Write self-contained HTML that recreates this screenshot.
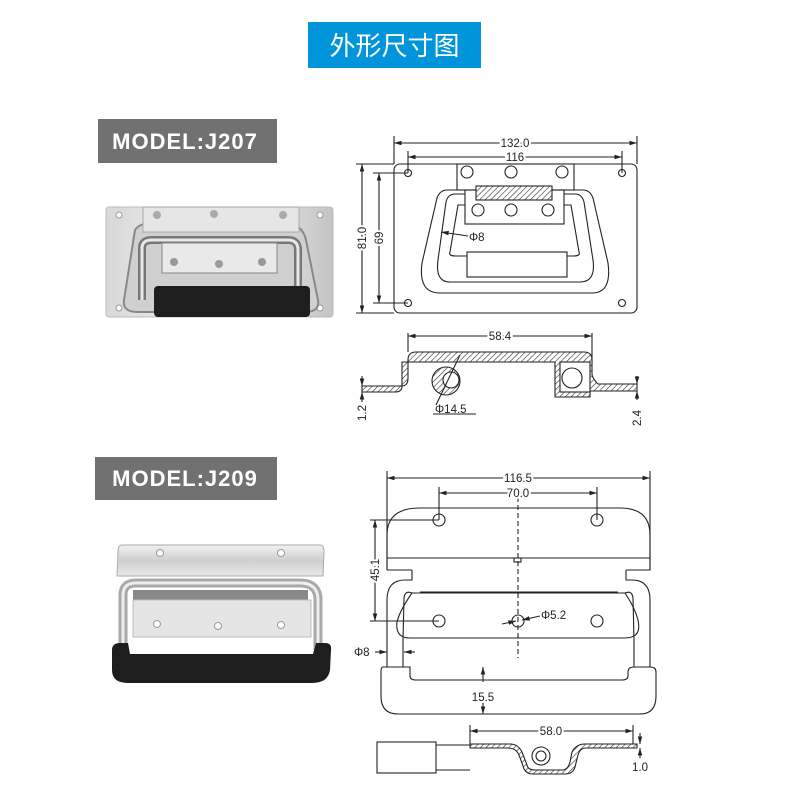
<!DOCTYPE html>
<html><head><meta charset="utf-8"><style>
html,body{margin:0;padding:0;background:#fff;}
svg{display:block}
text{font-family:"Liberation Sans","Noto Sans CJK SC",sans-serif;}
</style></head><body>
<svg width="790" height="800" viewBox="0 0 790 800" xmlns="http://www.w3.org/2000/svg">
<defs>
<marker id="a" viewBox="0 0 10 10" refX="10" refY="5" markerWidth="7" markerHeight="7" orient="auto-start-reverse"><path d="M0,2 L10,5 L0,8 z" fill="#222"/></marker>
<pattern id="h" width="4" height="4" patternUnits="userSpaceOnUse" patternTransform="rotate(45)"><rect width="4" height="4" fill="#fff"/><line x1="0" y1="0" x2="0" y2="4" stroke="#333" stroke-width="1.2"/></pattern>
<linearGradient id="m" x1="0" y1="0" x2="0" y2="1"><stop offset="0" stop-color="#f2f2f2"/><stop offset="0.5" stop-color="#cfcfcf"/><stop offset="1" stop-color="#e8e8e8"/></linearGradient>
<linearGradient id="m2" x1="0" y1="0" x2="1" y2="0"><stop offset="0" stop-color="#d8d8d8"/><stop offset="0.5" stop-color="#f7f7f7"/><stop offset="1" stop-color="#c4c4c4"/></linearGradient>
</defs>
<rect width="790" height="800" fill="#fff"/>
<rect x="308" y="22" width="173" height="46" fill="#0095da"/>
<text x="394.5" y="55" font-size="26" fill="#fff" text-anchor="middle">外形尺寸图</text>
<rect x="98" y="119" width="179" height="44" fill="#717171"/>
<text x="185" y="149" font-size="22" font-weight="bold" fill="#fff" text-anchor="middle" letter-spacing="1">MODEL:J207</text>
<rect x="95" y="457" width="182" height="43" fill="#717171"/>
<text x="185" y="486" font-size="22" font-weight="bold" fill="#fff" text-anchor="middle" letter-spacing="1">MODEL:J209</text>

<!-- J207 photo -->
<g>
<rect x="106" y="207" width="227" height="110" rx="3" fill="url(#m2)" stroke="#bbb"/>
<circle cx="119" cy="215" r="3" fill="#fff" stroke="#999"/><circle cx="320" cy="215" r="3" fill="#fff" stroke="#999"/>
<circle cx="119" cy="308" r="3" fill="#fff" stroke="#999"/><circle cx="320" cy="308" r="3" fill="#fff" stroke="#999"/>
<path d="M135,230 Q140,222 160,222 L280,222 Q302,222 306,240 L318,300 Q320,312 305,312 L138,312 Q122,312 124,300 Z" fill="#d0d0d0" stroke="#888" stroke-width="2"/>
<rect x="143" y="207" width="156" height="25" fill="#e6e6e6" stroke="#aaa"/>
<circle cx="157" cy="215" r="4" fill="#aaa"/><circle cx="214" cy="214" r="4" fill="#aaa"/><circle cx="283" cy="215" r="4" fill="#aaa"/>
<path d="M142,300 L142,248 Q142,240 152,240 L288,240 Q298,240 298,250 L298,300" fill="none" stroke="#777" stroke-width="8"/>
<path d="M142,300 L142,248 Q142,240 152,240 L288,240 Q298,240 298,250 L298,300" fill="none" stroke="#e8e8e8" stroke-width="3"/>
<rect x="162" y="243" width="115" height="30" fill="#e9e9e9" stroke="#888"/>
<circle cx="174" cy="262" r="4" fill="#999"/><circle cx="219" cy="264" r="4" fill="#999"/><circle cx="262" cy="262" r="4" fill="#999"/>
<rect x="154" y="286" width="156" height="31" rx="4" fill="#1e1e1e"/>
</g>

<!-- J209 photo -->
<g>
<path d="M122,545 L320,545 Q324,545 324,552 L323,576 L117,576 L118,552 Q118,545 122,545 Z" fill="url(#m)" stroke="#aaa"/>
<circle cx="160" cy="553" r="3.5" fill="#fff" stroke="#999"/><circle cx="281" cy="553" r="3.5" fill="#fff" stroke="#999"/>
<rect x="133" y="590" width="175" height="10" fill="#888"/>
<rect x="133" y="600" width="178" height="37" fill="#e5e5e5" stroke="#bbb"/>
<circle cx="157" cy="624" r="3.5" fill="#fff" stroke="#999"/><circle cx="218" cy="626" r="3.5" fill="#fff" stroke="#999"/><circle cx="281" cy="625" r="3.5" fill="#fff" stroke="#999"/>
<path d="M123,650 L123,595 Q123,583 136,583 L300,583 Q318,583 318,600 L318,650" fill="none" stroke="#a8a8a8" stroke-width="9"/>
<path d="M123,650 L123,595 Q123,583 136,583 L300,583 Q318,583 318,600 L318,650" fill="none" stroke="#eee" stroke-width="3"/>
<path d="M112,650 Q112,643 120,643 L128,643 L130,654 L313,654 L316,643 L325,643 Q332,643 331,650 L330,670 Q328,683 312,683 L128,683 Q112,683 112,670 Z" fill="#1e1e1e"/>
</g>

<g fill="none" stroke="#222" stroke-width="1.1">
<rect x="394" y="164" width="243" height="149" rx="6"/>
<circle cx="408" cy="173" r="3.5"/><circle cx="622" cy="173" r="3.5"/><circle cx="408" cy="303" r="3.5"/><circle cx="622" cy="303" r="3.5"/>
<line x1="394" y1="136" x2="394" y2="164"/><line x1="637" y1="136" x2="637" y2="164"/>
<line x1="394" y1="143" x2="637" y2="143" marker-start="url(#a)" marker-end="url(#a)"/>
<line x1="408" y1="151" x2="408" y2="173"/><line x1="622" y1="151" x2="622" y2="173"/>
<line x1="408" y1="157" x2="622" y2="157" marker-start="url(#a)" marker-end="url(#a)"/>
<line x1="356" y1="164" x2="394" y2="164"/><line x1="356" y1="313" x2="394" y2="313"/>
<line x1="362" y1="164" x2="362" y2="313" marker-start="url(#a)" marker-end="url(#a)"/>
<line x1="373" y1="173" x2="408" y2="173"/><line x1="373" y1="303" x2="408" y2="303"/>
<line x1="379" y1="173" x2="379" y2="303" marker-start="url(#a)" marker-end="url(#a)"/>
<path d="M457,190 L447,190 Q440,190 437,198 L422,263 Q418,293 440,293 L592,293 Q612,293 608,263 L593,198 Q590,190 583,190 L574,190"/>
<path d="M465,194 L455,194 Q448,194 446,202 L438,260 Q435,282 450,282 L580,282 Q596,282 593,260 L584,202 Q582,194 575,194 L564,194"/>
<path d="M465,205 L458,205 L450,252 Q448,256 456,256 L467,256"/>
<path d="M564,205 L571,205 L579,252 Q581,256 573,256 L567,256"/>
<rect x="457" y="164" width="117" height="26"/>
<circle cx="467" cy="172" r="6"/><circle cx="511" cy="172" r="6"/><circle cx="562" cy="172" r="6"/>
<rect x="465" y="190" width="99" height="34"/>
<rect x="476" y="186" width="76" height="14" fill="url(#h)"/>
<circle cx="478" cy="210" r="6"/><circle cx="511" cy="210" r="6"/><circle cx="548" cy="210" r="6"/>
<rect x="467" y="252" width="100" height="25" fill="#fff"/>
<line x1="468" y1="236" x2="441" y2="232" marker-end="url(#a)"/>

<line x1="408" y1="333" x2="408" y2="352"/><line x1="592" y1="333" x2="592" y2="365"/>
<line x1="408" y1="336" x2="592" y2="336" marker-start="url(#a)" marker-end="url(#a)"/>
<path d="M362,386 L402,386 Q408,386 408,378 L408,360 Q408,352 416,352 L584,352 Q592,352 592,360 L592,374 Q592,378 598,384 L637,384 L637,391 L590,391 L590,397 L555,397 L555,362 L402,362 L402,386 Q402,392 395,392 L362,392 Z" fill="url(#h)"/>
<rect x="560" y="362" width="30" height="30" fill="#fff"/>
<circle cx="446" cy="381" r="14" fill="url(#h)"/><circle cx="451" cy="380" r="8" fill="#fff"/>
<circle cx="572" cy="378" r="10" fill="#fff"/>
<line x1="362" y1="376" x2="362" y2="386" marker-end="url(#a)"/><line x1="362" y1="402" x2="362" y2="392" marker-end="url(#a)"/>
<line x1="637" y1="376" x2="637" y2="384" marker-end="url(#a)"/><line x1="637" y1="400" x2="637" y2="391" marker-end="url(#a)"/>
<line x1="436" y1="405" x2="460" y2="355"/><line x1="433" y1="414" x2="476" y2="414"/>

<line x1="387" y1="471" x2="387" y2="570"/><line x1="650" y1="471" x2="650" y2="570"/>
<line x1="387" y1="478" x2="650" y2="478" marker-start="url(#a)" marker-end="url(#a)"/>
<line x1="439" y1="487" x2="439" y2="520"/><line x1="597" y1="487" x2="597" y2="520"/>
<line x1="439" y1="493" x2="597" y2="493" marker-start="url(#a)" marker-end="url(#a)"/>
<path d="M387,570 L387,535 Q387,508 420,508 L620,508 Q650,508 650,535 L650,570 L626,570"/>
<line x1="387" y1="558" x2="650" y2="558"/><line x1="387" y1="570" x2="412" y2="570"/>
<path d="M412,570 L412,580 L405,580 Q387,580 387,600 L387,667"/>
<path d="M626,570 L626,580 L632,580 Q650,580 650,600 L650,667"/>
<path d="M403,667 L403,640 L404,598 Q405,590 412,593 L425,593 L610,593 L625,593 Q632,590 633,598 L634,640 L634,667"/>
<path d="M412,593 Q400,610 397,622 Q395,638 410,638 L625,638 Q642,638 638,620 Q635,608 625,593"/>
<line x1="420" y1="592" x2="618" y2="592"/>
<circle cx="439" cy="520" r="6"/><circle cx="597" cy="520" r="6"/>
<circle cx="439" cy="621" r="6"/><circle cx="518" cy="621" r="6"/><circle cx="597" cy="621" r="6"/>
<line x1="518" y1="497" x2="518" y2="658" stroke-dasharray="5,3"/>
<rect x="514" y="558" width="7" height="4"/>
<path d="M403,667 L383,667 Q381,667 381,672 L381,696 Q381,714 398,714 L640,714 Q656,714 656,696 L656,672 Q656,667 650,667 L634,667 Q628,667 628,672 L628,676 Q628,680 622,680 L416,680 Q410,680 410,676 L410,667 Z"/>
<line x1="370" y1="520" x2="439" y2="520"/><line x1="370" y1="621" x2="439" y2="621"/>
<line x1="375" y1="520" x2="375" y2="621" marker-start="url(#a)" marker-end="url(#a)"/>
<line x1="375" y1="652" x2="387" y2="652" marker-end="url(#a)"/><line x1="415" y1="652" x2="404" y2="652" marker-end="url(#a)"/>
<line x1="483" y1="667" x2="483" y2="682" marker-start="url(#a)"/><line x1="483" y1="703" x2="483" y2="714" marker-end="url(#a)"/>
<line x1="502" y1="624" x2="516" y2="621" marker-end="url(#a)"/><line x1="540" y1="616" x2="522" y2="620" marker-end="url(#a)"/>

<line x1="470" y1="725" x2="470" y2="745"/><line x1="633" y1="725" x2="633" y2="745"/>
<line x1="470" y1="731" x2="633" y2="731" marker-start="url(#a)" marker-end="url(#a)"/>
<rect x="377" y="742" width="59" height="31" fill="#fff"/>
<line x1="436" y1="745" x2="470" y2="745"/><line x1="436" y1="770" x2="470" y2="770"/>
<path d="M470,744 L510,744 Q518,744 522,752 L527,765 Q528,770 535,770 L562,770 Q568,770 570,762 L572,752 Q576,744 585,744 L637,744 L637,748 L586,748 Q580,748 578,755 L575,767 Q573,774 565,774 L533,774 Q525,774 523,766 L519,755 Q516,748 508,748 L470,748 Z" fill="url(#h)"/>
<circle cx="541" cy="756" r="9" fill="#fff"/><circle cx="541" cy="756" r="5"/>
<line x1="640" y1="733" x2="640" y2="744" marker-end="url(#a)"/><line x1="640" y1="758" x2="640" y2="748" marker-end="url(#a)"/>
</g>

<g font-size="11.5" fill="#222">
<text x="515" y="147" text-anchor="middle" style="paint-order:stroke" stroke="#fff" stroke-width="4">132.0</text>
<text x="515" y="161" text-anchor="middle" style="paint-order:stroke" stroke="#fff" stroke-width="4">116</text>
<text transform="translate(366,238) rotate(-90)" text-anchor="middle" style="paint-order:stroke" stroke="#fff" stroke-width="4">81.0</text>
<text transform="translate(383,238) rotate(-90)" text-anchor="middle" style="paint-order:stroke" stroke="#fff" stroke-width="4">69</text>
<text x="469" y="241">Φ8</text>
<text x="500" y="340" text-anchor="middle" style="paint-order:stroke" stroke="#fff" stroke-width="4">58.4</text>
<text transform="translate(366,413) rotate(-90)" text-anchor="middle">1.2</text>
<text transform="translate(641,418) rotate(-90)" text-anchor="middle">2.4</text>
<text x="435" y="413">Φ14.5</text>
<text x="518" y="482" text-anchor="middle" style="paint-order:stroke" stroke="#fff" stroke-width="4">116.5</text>
<text x="518" y="497" text-anchor="middle" style="paint-order:stroke" stroke="#fff" stroke-width="4">70.0</text>
<text transform="translate(379,570) rotate(-90)" text-anchor="middle" style="paint-order:stroke" stroke="#fff" stroke-width="4">45.1</text>
<text x="541" y="619">Φ5.2</text>
<text x="354" y="656">Φ8</text>
<text x="483" y="701" text-anchor="middle">15.5</text>
<text x="551" y="735" text-anchor="middle" style="paint-order:stroke" stroke="#fff" stroke-width="4">58.0</text>
<text x="640" y="771" text-anchor="middle">1.0</text>
</g>
</svg>
</body></html>
